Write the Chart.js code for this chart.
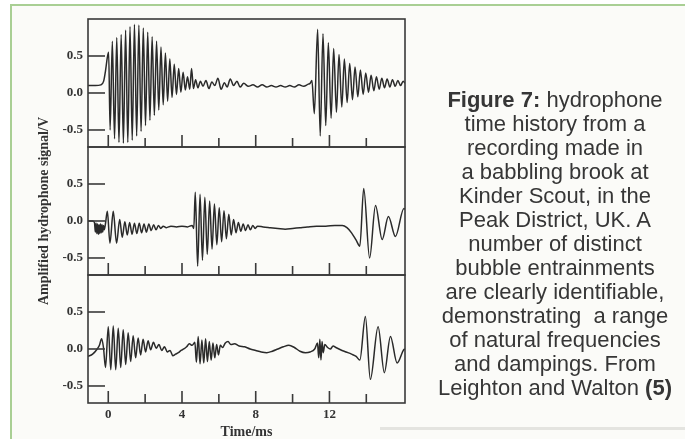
<!DOCTYPE html>
<html>
<head>
<meta charset="utf-8">
<script src="https://cdn.jsdelivr.net/npm/chart.js@4/dist/chart.umd.min.js"></script>
<style>
  html, body { margin: 0; padding: 0; background: #ffffff; }
  #sheet { position: relative; width: 685px; height: 439px; overflow: hidden; }
  #frame {
    position: absolute; left: 10px; top: 4px; width: 700px; height: 440px;
    border-left: 2px solid #a9cf94; border-top: 2px solid #a9cf94;
    background: #fbfbf8;
  }
  #band { position: absolute; left: 380px; top: 427px; width: 310px; height: 3px; background: #e4e4e0; }
  #chart { position: absolute; left: 0; top: 0; }
  #caption {
    position: absolute; left: 405px; top: 88px; width: 300px;
    text-align: center; color: #363636;
    font: 22px/24px 'Liberation Sans', Arial, sans-serif;
    white-space: nowrap;
  }
  #caption b { font-weight: bold; }
</style>
</head>
<body>
<div id="sheet">
  <div id="frame"></div>
  <div id="band"></div>
  <canvas id="chart" width="685" height="439"></canvas>
  <div id="caption"><b>Figure 7:</b> hydrophone<br>time history from a<br>recording made in<br>a babbling brook at<br>Kinder Scout, in the<br>Peak District, UK. A<br>number of distinct<br>bubble entrainments<br>are clearly identifiable,<br>demonstrating&nbsp; a range<br>of natural frequencies<br>and dampings. From<br>Leighton and Walton <b>(5)</b></div>
</div>
<script>
// Axis ticks (time in ms, signal in V)
const timeTicks = [0, 2, 4, 6, 8, 10, 12, 14];
const labelledTimes = [0, 4, 8, 12];
const voltTicks = [-0.5, 0, 0.5];

// Hydrophone traces, [time/ms, signal/V], one per recording window
const traceTop = [
  [-1.1, 0.10], [-0.7, 0.10], [-0.4, 0.11], [-0.25, 0.16], [-0.15, 0.30], [-0.05, 0.48], [0.02, 0.55],
  [0.10, -0.50], [0.22, 0.70], [0.34, -0.62], [0.46, 0.75], [0.58, -0.67], [0.70, 0.79],
  [0.82, -0.68], [0.94, 0.85], [1.06, -0.67], [1.18, 0.90], [1.30, -0.64], [1.42, 0.93],
  [1.54, -0.58], [1.66, 0.92], [1.78, -0.52], [1.90, 0.88], [2.02, -0.44], [2.14, 0.82],
  [2.26, -0.37], [2.38, 0.76], [2.50, -0.30], [2.62, 0.70], [2.74, -0.23], [2.86, 0.62],
  [2.98, -0.16], [3.10, 0.54], [3.22, -0.11], [3.34, 0.46], [3.46, -0.06], [3.58, 0.39],
  [3.70, -0.02], [3.82, 0.33], [3.94, 0.01], [4.06, 0.28], [4.18, 0.04], [4.30, 0.22],
  [4.42, 0.05], [4.52, 0.33], [4.62, 0.06], [4.74, 0.18], [4.86, 0.07], [5.00, 0.16],
  [5.14, 0.09], [5.30, 0.17], [5.46, 0.06], [5.62, 0.15], [5.78, 0.10], [5.95, 0.20],
  [6.12, 0.05], [6.30, 0.14], [6.45, 0.08], [6.62, 0.19], [6.80, 0.10], [6.98, 0.16],
  [7.15, 0.08], [7.35, 0.13], [7.60, 0.09], [7.85, 0.11], [8.10, 0.08], [8.35, 0.11],
  [8.60, 0.08], [8.85, 0.10], [9.10, 0.08], [9.35, 0.10], [9.60, 0.08], [9.85, 0.10],
  [10.10, 0.08], [10.35, 0.11], [10.60, 0.09], [10.85, 0.12], [10.95, 0.13], [11.05, 0.17],
  [11.18, -0.28], [11.36, 0.86], [11.50, -0.58], [11.65, 0.80], [11.80, -0.44], [11.94, 0.68],
  [12.09, -0.34], [12.23, 0.60], [12.38, -0.26], [12.52, 0.52], [12.67, -0.19], [12.81, 0.46],
  [12.96, -0.13], [13.10, 0.40], [13.25, -0.09], [13.39, 0.35], [13.54, -0.05], [13.68, 0.31],
  [13.83, -0.02], [13.97, 0.27], [14.12, 0.01], [14.26, 0.24], [14.41, 0.03], [14.55, 0.22],
  [14.70, 0.05], [14.84, 0.20], [14.99, 0.07], [15.13, 0.19], [15.28, 0.08], [15.42, 0.18],
  [15.57, 0.09], [15.71, 0.17], [15.86, 0.10], [16.00, 0.16], [16.10, 0.13]
];

const traceMiddle = [
  [-1.1, 0.00], [-0.85, 0.00], [-0.75, -0.02],
  [-0.70, -0.15], [-0.66, -0.03], [-0.62, -0.17], [-0.58, -0.04], [-0.54, -0.18], [-0.50, -0.05],
  [-0.46, -0.17], [-0.42, -0.04], [-0.38, -0.16], [-0.34, -0.05], [-0.30, -0.15], [-0.26, -0.06],
  [-0.22, -0.12], [-0.16, -0.05],
  [-0.05, 0.13], [0.09, -0.30], [0.27, 0.13], [0.45, -0.30], [0.62, 0.02], [0.76, -0.22],
  [0.90, -0.01], [1.03, -0.19], [1.16, -0.02], [1.29, -0.18], [1.42, -0.03], [1.55, -0.17],
  [1.68, -0.03], [1.81, -0.16], [1.94, -0.04], [2.07, -0.15], [2.20, -0.04], [2.33, -0.13],
  [2.46, -0.05], [2.59, -0.12], [2.72, -0.06], [2.85, -0.10], [2.98, -0.07], [3.15, -0.09],
  [3.40, -0.07], [3.70, -0.08], [4.00, -0.07], [4.30, -0.08], [4.55, -0.06],
  [4.64, -0.10], [4.72, 0.39], [4.85, -0.61], [4.98, 0.36], [5.11, -0.53], [5.24, 0.32],
  [5.37, -0.45], [5.50, 0.27], [5.63, -0.38], [5.76, 0.23], [5.89, -0.32], [6.02, 0.18],
  [6.15, -0.28], [6.28, 0.14], [6.41, -0.24], [6.54, 0.09], [6.67, -0.19], [6.80, 0.02],
  [6.93, -0.16], [7.06, -0.02], [7.19, -0.14], [7.32, -0.04], [7.45, -0.13], [7.58, -0.05],
  [7.71, -0.12], [7.84, -0.06], [7.97, -0.10], [8.10, -0.07],
  [8.4, -0.08], [8.8, -0.09], [9.2, -0.10], [9.6, -0.11], [10.0, -0.10], [10.4, -0.09],
  [10.8, -0.08], [11.3, -0.07], [11.8, -0.07], [12.3, -0.06], [12.7, -0.06], [12.95, -0.09],
  [13.2, -0.16], [13.45, -0.26], [13.65, -0.34], [13.86, 0.44], [14.18, -0.50], [14.50, 0.21],
  [14.86, -0.25], [15.20, 0.06], [15.58, -0.21], [16.04, 0.17], [16.10, 0.16]
];

const traceBottom = [
  [-1.1, -0.10], [-0.85, -0.07], [-0.6, 0.00], [-0.48, 0.05], [-0.36, 0.14], [-0.26, 0.02],
  [-0.15, -0.25], [0.00, 0.30], [0.135, -0.28], [0.27, 0.31], [0.405, -0.28], [0.54, 0.28],
  [0.675, -0.25], [0.81, 0.26], [0.945, -0.21], [1.08, 0.22], [1.215, -0.17], [1.35, 0.18],
  [1.485, -0.12], [1.62, 0.15], [1.755, -0.08], [1.89, 0.13], [2.025, -0.04], [2.16, 0.11],
  [2.30, -0.01], [2.45, 0.09], [2.60, 0.01], [2.75, 0.06], [2.90, -0.02], [3.05, 0.03],
  [3.20, -0.04], [3.35, -0.02], [3.50, -0.09], [3.65, -0.07], [3.80, -0.05], [3.95, -0.02],
  [4.10, 0.00], [4.25, 0.03], [4.40, 0.07], [4.55, 0.05], [4.70, 0.09],
  [4.78, -0.18], [4.88, 0.17], [4.98, -0.20], [5.08, 0.12], [5.18, -0.19], [5.28, 0.14],
  [5.38, -0.17], [5.48, 0.10], [5.58, -0.15], [5.68, 0.08], [5.78, -0.12], [5.88, 0.06],
  [5.98, -0.08], [6.08, 0.05], [6.20, 0.02], [6.35, 0.08], [6.50, 0.10], [6.65, 0.06],
  [6.85, 0.07], [7.10, 0.04], [7.40, 0.03], [7.70, 0.00], [8.00, -0.02], [8.30, -0.04],
  [8.60, -0.05], [8.90, -0.03], [9.20, 0.00], [9.50, 0.03], [9.80, 0.05], [10.10, 0.02],
  [10.40, -0.03], [10.70, -0.05], [10.95, -0.04], [11.20, 0.00], [11.35, 0.08], [11.42, -0.12],
  [11.48, 0.13], [11.54, -0.15], [11.60, 0.10], [11.66, -0.05], [11.75, 0.06], [11.90, 0.02],
  [12.05, 0.00], [12.20, 0.04], [12.35, 0.02], [12.60, -0.01], [12.90, -0.04], [13.20, -0.07],
  [13.45, -0.10], [13.65, -0.15], [13.95, 0.44], [14.22, -0.41], [14.64, 0.30], [14.98, -0.32],
  [15.31, 0.17], [15.67, -0.19], [16.03, -0.01], [16.10, 0.00]
];

const panelIds = ['yTop', 'yMiddle', 'yBottom'];
const serif = "'Liberation Serif', 'Times New Roman', serif";
const ink = '#2a2a2a';

// Frame of the three stacked panels with inward-pointing tick marks
const panelFrame = {
  id: 'panelFrame',
  afterDatasetsDraw(chart) {
    const { ctx, scales } = chart;
    const xs = scales.x;
    ctx.save();
    ctx.strokeStyle = '#3a3a3a';
    ctx.lineWidth = 1.6;
    const seg = (x1, y1, x2, y2) => { ctx.beginPath(); ctx.moveTo(x1, y1); ctx.lineTo(x2, y2); ctx.stroke(); };
    for (const id of panelIds) {
      const ys = scales[id];
      ctx.strokeRect(xs.left, ys.top, xs.right - xs.left, ys.bottom - ys.top);
      for (const v of voltTicks) {
        const py = ys.getPixelForValue(v);
        seg(xs.left, py, xs.left + 17, py);
      }
      for (const t of timeTicks) {
        const px = xs.getPixelForValue(t);
        const len = labelledTimes.includes(t) ? 12 : 9;
        seg(px, ys.bottom, px, ys.bottom - len);
      }
    }
    ctx.restore();
  }
};

function panelScale(weight, withTitle) {
  return {
    type: 'linear', position: 'left', stack: 'panels', stackWeight: 1, weight,
    min: -0.73, max: 1.0, offset: false,
    grid: { display: false, drawTicks: false },
    border: { display: false },
    afterBuildTicks: s => { s.ticks = voltTicks.map(v => ({ value: v })); },
    afterFit: s => { s.width = 88; },
    ticks: {
      padding: 5, color: '#333',
      font: { family: serif, size: 13, weight: 'bold' },
      callback: v => Number(v).toFixed(1)
    },
    title: withTitle ? {
      display: true, text: 'Amplified hydrophone signal/V', color: '#333',
      font: { family: serif, size: 14, weight: 'bold', lineHeight: 1 },
      padding: { top: 37, bottom: 0 }
    } : { display: false }
  };
}

const lineStyle = {
  borderColor: ink, borderWidth: 1.5, pointRadius: 0,
  cubicInterpolationMode: 'monotone', fill: false
};

new Chart(document.getElementById('chart'), {
  type: 'line',
  data: {
    datasets: [
      { ...lineStyle, label: 'top', yAxisID: 'yTop', data: traceTop.map(([x, y]) => ({ x, y })) },
      { ...lineStyle, label: 'middle', yAxisID: 'yMiddle', data: traceMiddle.map(([x, y]) => ({ x, y })) },
      { ...lineStyle, label: 'bottom', yAxisID: 'yBottom', data: traceBottom.map(([x, y]) => ({ x, y })) }
    ]
  },
  options: {
    responsive: false,
    animation: false,
    devicePixelRatio: 1,
    layout: { padding: { top: 19, right: 280, bottom: 0, left: 0 } },
    plugins: { legend: { display: false }, tooltip: { enabled: false } },
    scales: {
      x: {
        type: 'linear', position: 'bottom', min: -1.1, max: 16.1,
        grid: { display: false, drawTicks: false },
        border: { display: false },
        afterBuildTicks: s => { s.ticks = labelledTimes.map(v => ({ value: v })); },
        afterFit: s => { s.height = 36; },
        ticks: {
          padding: 4, color: '#333', maxRotation: 0,
          font: { family: serif, size: 13, weight: 'bold' },
          callback: v => String(v)
        },
        title: {
          display: true, text: 'Time/ms', color: '#333',
          font: { family: serif, size: 14, weight: 'bold', lineHeight: 1 },
          padding: { top: 0, bottom: 0 }
        }
      },
      yTop: panelScale(3, false),
      yMiddle: panelScale(2, true),
      yBottom: panelScale(1, false)
    }
  },
  plugins: [panelFrame]
});
</script>
</body>
</html>
